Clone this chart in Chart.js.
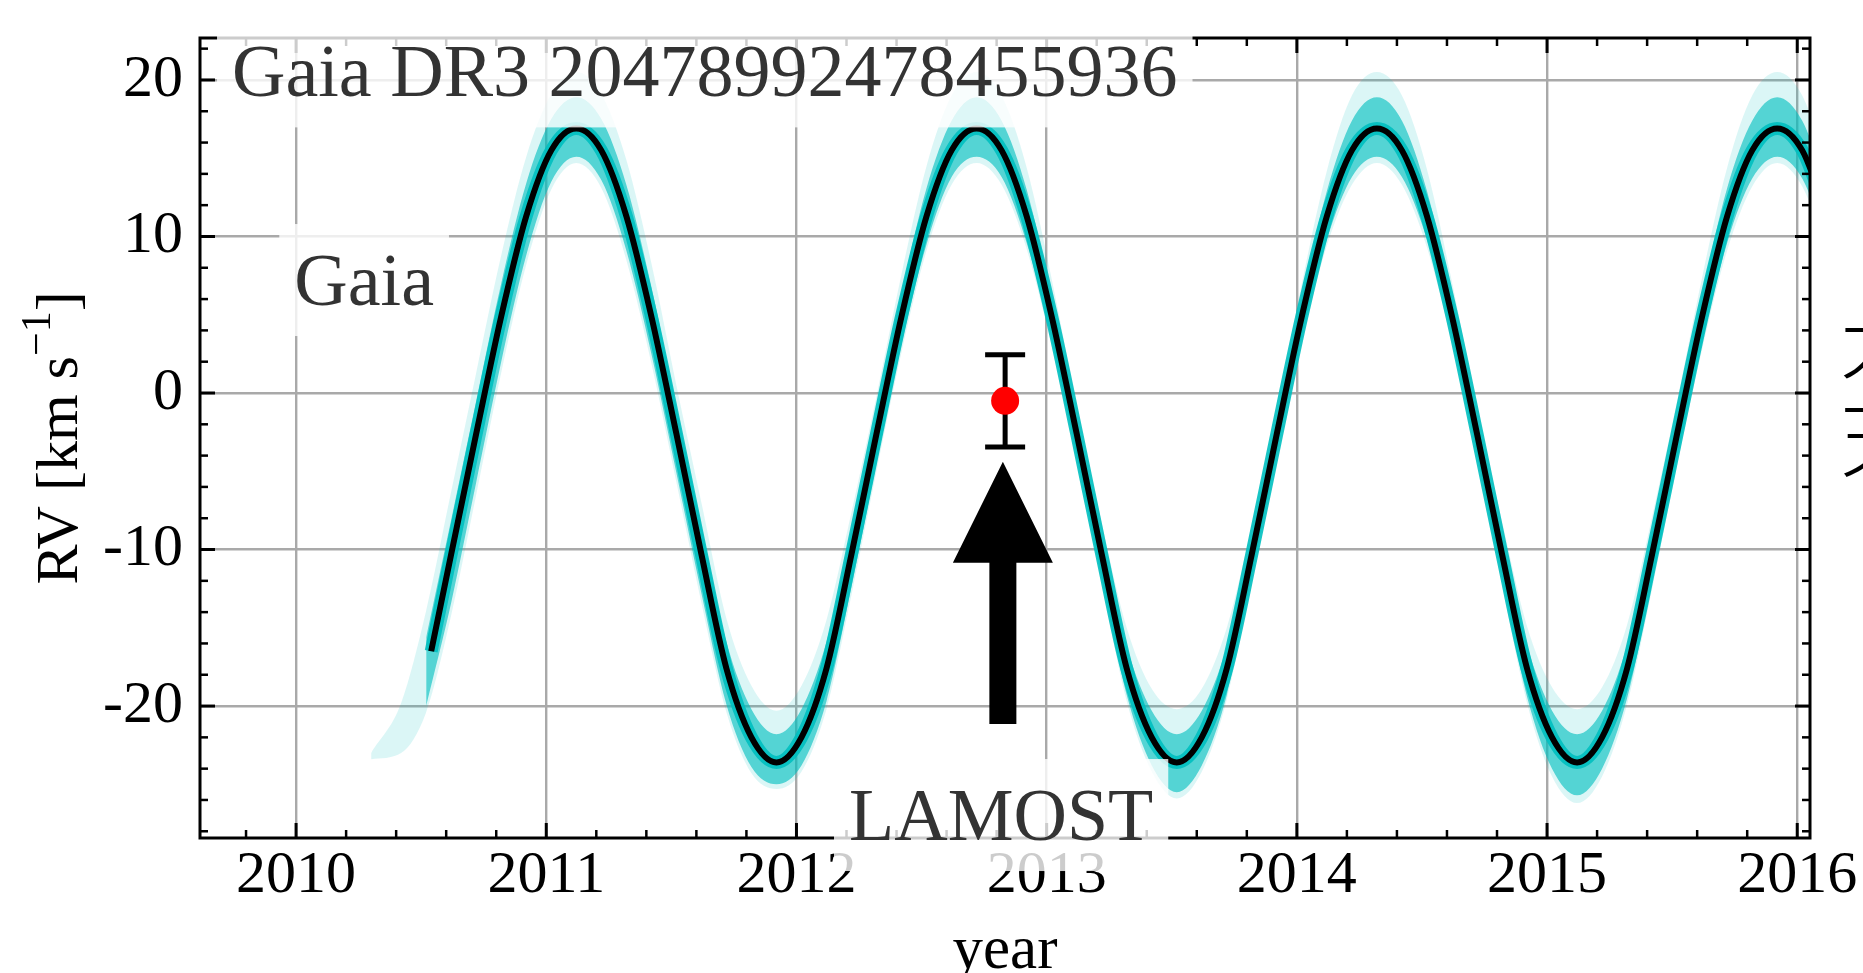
<!DOCTYPE html>
<html>
<head>
<meta charset="utf-8">
<title>RV curve</title>
<script src="https://cdn.jsdelivr.net/npm/chart.js@4.4.1/dist/chart.umd.min.js"></script>
<style>
  html, body { margin: 0; background: #fff; }
  #wrap { width: 1863px; height: 973px; position: relative; }
</style>
</head>
<body>
<div id="wrap"><canvas id="rv"></canvas></div>
<script>
/* ── Data ── */

// best-fit orbit (black)
const bestT = [2010.54, 2010.62, 2010.72, 2010.82, 2010.92, 2011.02, 2011.12, 2011.22, 2011.32, 2011.42,
  2011.52, 2011.62, 2011.72, 2011.82, 2011.92, 2012.02, 2012.12, 2012.22, 2012.32, 2012.42,
  2012.52, 2012.62, 2012.72, 2012.82, 2012.92, 2013.02, 2013.12, 2013.22, 2013.32, 2013.42,
  2013.52, 2013.62, 2013.72, 2013.82, 2013.92, 2014.02, 2014.12, 2014.22, 2014.32, 2014.42,
  2014.52, 2014.62, 2014.72, 2014.82, 2014.92, 2015.02, 2015.12, 2015.22, 2015.32, 2015.42,
  2015.52, 2015.62, 2015.72, 2015.82, 2015.92, 2016.02, 2016.12];
const bestRV = [-16.5, -10.3, -2.6, 4.9, 11.3, 15.5, 16.9, 15.5, 11.3, 4.9,
  -2.6, -10.3, -17.6, -22.0, -23.6, -22.0, -17.6, -10.3, -2.6, 4.9,
  11.3, 15.5, 16.9, 15.5, 11.3, 4.9, -2.6, -10.3, -17.6, -22.0,
  -23.6, -22.0, -17.6, -10.3, -2.6, 4.9, 11.3, 15.5, 16.9, 15.5,
  11.3, 4.9, -2.6, -10.3, -17.6, -22.0, -23.6, -22.0, -17.6, -10.3,
  -2.6, 4.9, 11.3, 15.5, 16.9, 15.5, 11.3];

// posterior sample spread (cyan): outer = faintest samples, inner = dense core
const bandT = [2010.30, 2010.42, 2010.52, 2010.62, 2010.72, 2010.82, 2010.92, 2011.02, 2011.12, 2011.22,
  2011.32, 2011.42, 2011.52, 2011.62, 2011.72, 2011.82, 2011.92, 2012.02, 2012.12, 2012.22,
  2012.32, 2012.42, 2012.52, 2012.62, 2012.72, 2012.82, 2012.92, 2013.02, 2013.12, 2013.22,
  2013.32, 2013.42, 2013.52, 2013.62, 2013.72, 2013.82, 2013.92, 2014.02, 2014.12, 2014.22,
  2014.32, 2014.42, 2014.52, 2014.62, 2014.72, 2014.82, 2014.92, 2015.02, 2015.12, 2015.22,
  2015.32, 2015.42, 2015.52, 2015.62, 2015.72, 2015.82, 2015.92, 2016.02, 2016.12];
const outerHi = [-23.0, -19.8, -13.9, -6.3, 1.3, 8.8, 15.1, 19.1, 20.5, 19.1,
  14.9, 8.3, 0.5, -7.0, -14.4, -18.7, -20.3, -18.7, -14.5, -7.6,
  -0.2, 7.6, 14.5, 19.0, 20.5, 19.0, 14.4, 7.3, -0.8, -8.3,
  -15.0, -18.9, -20.2, -18.9, -15.0, -8.5, -1.1, 7.0, 14.2, 19.0,
  20.5, 19.0, 14.3, 7.1, -0.9, -8.2, -14.9, -18.8, -20.2, -18.8,
  -14.8, -7.9, -0.5, 7.4, 14.4, 19.0, 20.5, 19.0, 14.5];
const outerLo = [-23.4, -23.0, -20.4, -14.2, -6.5, 1.3, 8.2, 13.0, 14.7, 13.1,
  8.5, 1.9, -5.7, -13.4, -20.4, -24.3, -25.3, -24.2, -20.2, -12.9,
  -5.0, 2.6, 9.1, 13.3, 14.7, 13.3, 9.2, 3.0, -4.3, -12.1,
  -19.7, -24.2, -25.9, -24.2, -19.6, -11.9, -4.0, 3.3, 9.4, 13.3,
  14.7, 13.3, 9.3, 3.2, -4.2, -12.2, -19.8, -24.5, -26.2, -24.5,
  -19.9, -12.5, -4.6, 2.8, 9.1, 13.2, 14.7, 13.2, 9.0];
const innerHi = [null, null, -15.6, -8.1, -0.5, 7.0, 13.4, 17.5, 18.9, 17.5,
  13.3, 6.8, -0.9, -8.5, -15.9, -20.2, -21.8, -20.2, -15.9, -8.8,
  -1.3, 6.4, 13.1, 17.4, 18.9, 17.4, 13.0, 6.2, -1.6, -9.2,
  -16.2, -20.3, -21.8, -20.3, -16.2, -9.3, -1.8, 6.1, 12.9, 17.4,
  18.9, 17.4, 12.9, 6.1, -1.7, -9.2, -16.1, -20.3, -21.8, -20.3,
  -16.1, -9.0, -1.5, 6.3, 13.1, 17.4, 18.9, 17.4, 13.1];
const innerLo = [null, null, -20.0, -13.4, -5.7, 2.0, 8.8, 13.5, 15.1, 13.6,
  9.1, 2.5, -5.1, -12.8, -19.9, -23.9, -25.0, -23.8, -19.7, -12.4,
  -4.5, 3.1, 9.5, 13.8, 15.1, 13.8, 9.6, 3.4, -4.0, -11.8,
  -19.3, -23.8, -25.5, -23.8, -19.3, -11.6, -3.7, 3.7, 9.8, 13.8,
  15.1, 13.8, 9.8, 3.6, -3.9, -11.8, -19.4, -24.0, -25.7, -24.0,
  -19.5, -12.1, -4.2, 3.2, 9.6, 13.7, 15.1, 13.7, 9.5];

// LAMOST epoch
const lamostT = [2012.834];
const lamostRV = [-0.5];
const lamostErr = [2.95];
const arrowT = 2012.825, arrowFrom = -21.15, arrowTo = -4.4;

// axes
const yearTicks = [2010, 2011, 2012, 2013, 2014, 2015, 2016];
const rvTicks = [-20, -10, 0, 10, 20];
const xRange = [2009.616, 2016.051];
const yRange = [-28.43, 22.68];

// text labels (anchor in data units)
const labels = [
  { text: 'Gaia DR3 20478992478455936', t: 2009.744, rv: 18.95, align: 'left' },
  { text: 'Gaia', t: 2010.272, rv: 5.62, align: 'center' },
  { text: 'LAMOST', t: 2012.818, rv: -28.56, align: 'center' },
];

/* ── Helpers ── */
const pts = (xs, ys) => xs.map((x, i) => ({ x, y: ys[i] }));
const SERIF = '"Liberation Serif", "Times New Roman", serif';
const CYAN = '0,191,191';
const GRID = '#a9a9a9';

const lineBase = {
  pointRadius: 0, borderWidth: 0, borderColor: 'transparent',
  cubicInterpolationMode: 'monotone', spanGaps: false, clip: 0,
};

/* ── Overlay drawing ── */
function drawErrorBar(chart) {
  const { ctx, scales: { x, y } } = chart;
  ctx.save();
  ctx.strokeStyle = '#000';
  ctx.lineWidth = 5;
  lamostT.forEach((t, i) => {
    const px = x.getPixelForValue(t);
    const top = y.getPixelForValue(lamostRV[i] + lamostErr[i]);
    const bot = y.getPixelForValue(lamostRV[i] - lamostErr[i]);
    ctx.beginPath();
    ctx.moveTo(px, top); ctx.lineTo(px, bot);
    ctx.moveTo(px - 20, top); ctx.lineTo(px + 20, top);
    ctx.moveTo(px - 20, bot); ctx.lineTo(px + 20, bot);
    ctx.stroke();
  });
  ctx.restore();
}

function drawArrow(chart) {
  const { ctx, scales: { x, y } } = chart;
  const px = x.getPixelForValue(arrowT);
  const tail = y.getPixelForValue(arrowFrom);
  const tip = y.getPixelForValue(arrowTo);
  const base = tip + 101, sh = 13.5, hh = 50;
  ctx.save();
  ctx.fillStyle = '#000';
  ctx.beginPath();
  ctx.moveTo(px - sh, tail);
  ctx.lineTo(px - sh, base);
  ctx.lineTo(px - hh, base);
  ctx.lineTo(px, tip);
  ctx.lineTo(px + hh, base);
  ctx.lineTo(px + sh, base);
  ctx.lineTo(px + sh, tail);
  ctx.closePath();
  ctx.fill();
  ctx.restore();
}

function drawFrame(chart) {
  const { ctx, chartArea: a, scales: { x, y } } = chart;
  ctx.save();
  ctx.strokeStyle = '#000';
  const seg = (x1, y1, x2, y2) => { ctx.beginPath(); ctx.moveTo(x1, y1); ctx.lineTo(x2, y2); ctx.stroke(); };
  // x ticks every 0.2 yr, inward on top and bottom
  for (let i = Math.ceil(x.min * 5); i <= Math.floor(x.max * 5); i++) {
    const major = i % 5 === 0;
    const len = major ? 15 : 8;
    ctx.lineWidth = major ? 3 : 2.5;
    const px = x.getPixelForValue(i / 5);
    seg(px, a.bottom, px, a.bottom - len);
    seg(px, a.top, px, a.top + len);
  }
  // y ticks every 2 km/s, inward left and right
  for (let i = Math.ceil(y.min / 2); i <= Math.floor(y.max / 2); i++) {
    const major = (i * 2) % 10 === 0;
    const len = major ? 15 : 8;
    ctx.lineWidth = major ? 3 : 2.5;
    const py = y.getPixelForValue(i * 2);
    seg(a.left, py, a.left + len, py);
    seg(a.right, py, a.right - len, py);
  }
  ctx.lineWidth = 3;
  ctx.strokeRect(a.left, a.top, a.right - a.left, a.bottom - a.top);
  ctx.restore();
}

function drawLabels(chart) {
  const { ctx, scales: { x, y } } = chart;
  ctx.save();
  ctx.font = '74px ' + SERIF;
  ctx.textBaseline = 'alphabetic';
  ctx.textAlign = 'left';
  labels.forEach(l => {
    const m = ctx.measureText(l.text);
    const asc = m.fontBoundingBoxAscent || 66, desc = m.fontBoundingBoxDescent || 16;
    const px = x.getPixelForValue(l.t), py = y.getPixelForValue(l.rv);
    const left = l.align === 'center' ? px - m.width / 2 : px;
    ctx.fillStyle = 'rgba(255,255,255,0.8)';
    ctx.fillRect(left - 15, py - asc - 15, m.width + 30, asc + desc + 30);
    ctx.fillStyle = '#333';
    ctx.fillText(l.text, left, py);
  });
  ctx.restore();
}

function drawTitles(chart) {
  const { ctx, chartArea: a } = chart;
  ctx.save();
  ctx.fillStyle = '#000';
  ctx.textBaseline = 'alphabetic';
  // x title
  ctx.font = '61px ' + SERIF;
  ctx.textAlign = 'center';
  ctx.fillText('year', (a.left + a.right) / 2, 968);
  // y title with superscript
  const big = '60px ' + SERIF, small = '42px ' + SERIF;
  ctx.textAlign = 'left';
  ctx.font = big;
  const w1 = ctx.measureText('RV [km s').width, w3 = ctx.measureText(']').width;
  ctx.font = small;
  const w2 = ctx.measureText('\u22121').width;
  ctx.translate(77, (a.top + a.bottom) / 2);
  ctx.rotate(-Math.PI / 2);
  let cx = -(w1 + w2 + w3) / 2;
  ctx.font = big; ctx.fillText('RV [km s', cx, 0); cx += w1;
  ctx.font = small; ctx.fillText('\u22121', cx, -27); cx += w2;
  ctx.font = big; ctx.fillText(']', cx, 0);
  ctx.restore();

  // cut-off glyphs at the right edge
  ctx.save();
  ctx.fillStyle = '#000';
  ctx.font = '300 82px "Noto Sans CJK JP"';
  ctx.textAlign = 'left';
  ctx.fillText('大', 1840, 372);
  ctx.fillText('天', 1840, 470);
  ctx.restore();
}

const overlay = {
  id: 'overlay',
  beforeDatasetsDraw: drawErrorBar,
  afterDatasetsDraw(chart) { drawArrow(chart); drawFrame(chart); },
  afterDraw(chart) { drawLabels(chart); drawTitles(chart); },
};

/* ── Chart ── */
new Chart(document.getElementById('rv'), {
  type: 'line',
  data: {
    datasets: [
      { ...lineBase, data: pts(bandT, outerLo), fill: false, order: 6 },
      { ...lineBase, data: pts(bandT, outerHi), fill: '-1', backgroundColor: `rgba(${CYAN},0.14)`, order: 6 },
      { ...lineBase, data: pts(bandT, innerLo), fill: false, order: 5 },
      { ...lineBase, data: pts(bandT, innerHi), fill: '-1', backgroundColor: `rgba(${CYAN},0.62)`, order: 5 },
      { ...lineBase, data: pts(bestT, bestRV), fill: false, borderColor: `rgba(${CYAN},0.9)`, borderWidth: 13, order: 4 },
      { ...lineBase, data: pts(bestT, bestRV), fill: false, borderColor: '#000', borderWidth: 6, order: 3 },
      {
        data: pts(lamostT, lamostRV), showLine: false, fill: false, order: 1,
        pointRadius: 14, pointBackgroundColor: '#ff0000', pointBorderWidth: 0, pointHoverRadius: 14,
      },
    ],
  },
  options: {
    responsive: true,
    maintainAspectRatio: false,
    devicePixelRatio: 1,
    animation: false,
    events: [],
    layout: { padding: { top: 38, right: 53, left: 0, bottom: 0 } },
    plugins: { legend: { display: false }, tooltip: { enabled: false } },
    scales: {
      x: {
        type: 'linear', min: xRange[0], max: xRange[1],
        afterBuildTicks: s => { s.ticks = yearTicks.map(v => ({ value: v })); },
        afterFit: s => { s.height = 135; },
        grid: { color: GRID, lineWidth: 2.4, drawTicks: false },
        border: { display: false },
        ticks: {
          font: { family: SERIF, size: 60 }, color: '#000', padding: 2,
          maxRotation: 0, autoSkip: false, callback: v => String(v),
        },
      },
      y: {
        type: 'linear', min: yRange[0], max: yRange[1],
        afterBuildTicks: s => { s.ticks = rvTicks.map(v => ({ value: v })); },
        afterFit: s => { s.width = 200; s.paddingTop = 0; s.paddingBottom = 0; },
        grid: { color: GRID, lineWidth: 2.4, drawTicks: false },
        border: { display: false },
        ticks: {
          font: { family: SERIF, size: 60 }, color: '#000', padding: 17,
          callback: v => String(v),
        },
      },
    },
  },
  plugins: [overlay],
});
</script>
</body>
</html>
